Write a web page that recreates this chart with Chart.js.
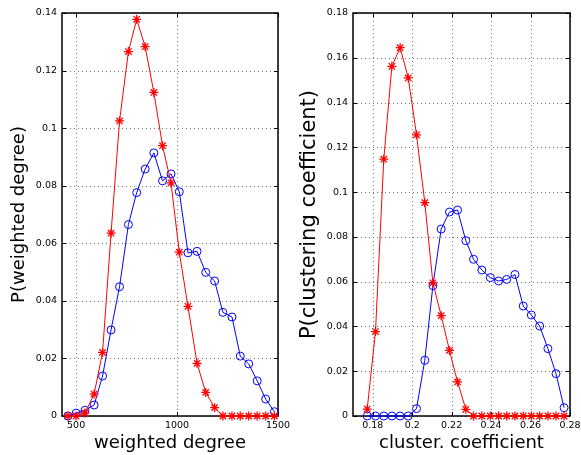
<!DOCTYPE html>
<html><head><meta charset="utf-8">
<script src="https://cdn.jsdelivr.net/npm/chart.js@4.4.1/dist/chart.umd.min.js"></script>
<style>
html,body{margin:0;padding:0;background:#fff;}
#wrap{position:relative;width:581px;height:455px;overflow:hidden;background:#fff;}
canvas{position:absolute;top:0;}
</style></head><body>
<div id="wrap">
<canvas id="c1" width="300" height="455" style="left:0;width:300px;height:455px"></canvas>
<canvas id="c2" width="291" height="455" style="left:290px;width:291px;height:455px"></canvas>
</div>
<script>
// ---- data: weighted degree panel ----
const degX = [459, 500, 544, 589, 631, 673, 715, 759, 800, 842, 885, 928, 970, 1011, 1054, 1099, 1142, 1186, 1227, 1272, 1313, 1355, 1397, 1439, 1482];
const degRed = [0, 0, 0.001, 0.0076, 0.0221, 0.0635, 0.1025, 0.1266, 0.1378, 0.1283, 0.1124, 0.0939, 0.0810, 0.0569, 0.0381, 0.0183, 0.0082, 0.0029, 0, 0, 0, 0, 0, 0, 0];
const degBlue = [0, 0.001, 0.002, 0.0038, 0.0139, 0.0299, 0.0449, 0.0665, 0.0776, 0.0858, 0.0914, 0.0817, 0.0841, 0.0779, 0.0567, 0.0572, 0.0499, 0.0469, 0.0360, 0.0344, 0.0208, 0.0181, 0.0122, 0.0059, 0.0015];
const degXTicks = [500, 1000, 1500];
const degYTicks = [0, 0.02, 0.04, 0.06, 0.08, 0.1, 0.12, 0.14];

// ---- data: clustering coefficient panel ----
const ccX = [0.1772, 0.1814, 0.1856, 0.1897, 0.1939, 0.1980, 0.2022, 0.2064, 0.2105, 0.2147, 0.2189, 0.2230, 0.2272, 0.2311, 0.2353, 0.2396, 0.2438, 0.2479, 0.2521, 0.2563, 0.2604, 0.2646, 0.2688, 0.2729, 0.2770];
const ccRed = [0.0031, 0.0377, 0.1147, 0.1562, 0.1645, 0.151, 0.1256, 0.0953, 0.0595, 0.0448, 0.0293, 0.0152, 0.003, 0, 0, 0, 0, 0, 0, 0, 0, 0, 0, 0, 0];
const ccBlue = [0, 0, 0, 0, 0, 0, 0.0033, 0.0249, 0.0582, 0.0835, 0.0911, 0.092, 0.0783, 0.070, 0.0652, 0.0618, 0.0603, 0.061, 0.0632, 0.0491, 0.0451, 0.0402, 0.0301, 0.0189, 0.0037];
const ccXTicks = [0.18, 0.2, 0.22, 0.24, 0.26, 0.28];
const ccYTicks = [0, 0.02, 0.04, 0.06, 0.08, 0.1, 0.12, 0.14, 0.16, 0.18];

Chart.defaults.font.family = "'DejaVu Sans', sans-serif";
Chart.defaults.color = '#000';

const matlabAxes = {
  id: 'matlabAxes',
  beforeDatasetsDraw(chart) {
    const {ctx, chartArea: a, scales: {x, y}} = chart;
    ctx.save();
    // dotted grid
    ctx.strokeStyle = '#777';
    ctx.lineWidth = 1;
    ctx.setLineDash([1, 3]);
    x.ticks.forEach(t => {
      const px = Math.round(x.getPixelForValue(t.value)) + 0.5;
      ctx.beginPath(); ctx.moveTo(px, a.top); ctx.lineTo(px, a.bottom); ctx.stroke();
    });
    y.ticks.forEach(t => {
      const py = Math.round(y.getPixelForValue(t.value)) + 0.5;
      ctx.beginPath(); ctx.moveTo(a.left, py); ctx.lineTo(a.right, py); ctx.stroke();
    });
    ctx.setLineDash([]);
    // frame
    ctx.strokeStyle = '#000';
    ctx.lineWidth = 1.5;
    ctx.strokeRect(a.left, a.top, a.right - a.left, a.bottom - a.top);
    // inward ticks
    ctx.lineWidth = 1;
    const tl = 4;
    x.ticks.forEach(t => {
      const px = Math.round(x.getPixelForValue(t.value)) + 0.5;
      ctx.beginPath();
      ctx.moveTo(px, a.bottom); ctx.lineTo(px, a.bottom - tl);
      ctx.moveTo(px, a.top); ctx.lineTo(px, a.top + tl);
      ctx.stroke();
    });
    y.ticks.forEach(t => {
      const py = Math.round(y.getPixelForValue(t.value)) + 0.5;
      ctx.beginPath();
      ctx.moveTo(a.left, py); ctx.lineTo(a.left + tl, py);
      ctx.moveTo(a.right, py); ctx.lineTo(a.right - tl, py);
      ctx.stroke();
    });
    ctx.restore();
  }
};

function makeChart(id, xs, red, blue, xMin, xMax, xTicks, yMax, yTicks, xTitle, yTitle, yTitleSize, yTitlePad, pad, yWidth, xFmt) {
  const toPts = arr => arr.map((v, i) => ({x: xs[i], y: v}));
  return new Chart(document.getElementById(id), {
    type: 'line',
    data: {
      datasets: [
        {data: toPts(red), borderColor: '#ff0000', borderWidth: 1, pointStyle: 'star', pointRadius: 4.5,
         pointBorderColor: '#ff0000', pointBorderWidth: 1.3, pointBackgroundColor: 'rgba(0,0,0,0)', tension: 0, clip: false, order: 0},
        {data: toPts(blue), borderColor: '#0000ff', borderWidth: 1, pointStyle: 'circle', pointRadius: 4,
         pointBorderColor: '#0000ff', pointBorderWidth: 1, pointBackgroundColor: 'rgba(0,0,0,0)', tension: 0, clip: false, order: 1}
      ]
    },
    options: {
      responsive: false, animation: false, devicePixelRatio: 1,
      layout: {padding: pad},
      plugins: {legend: {display: false}, tooltip: {enabled: false}},
      scales: {
        x: {
          type: 'linear', min: xMin, max: xMax,
          grid: {display: false, drawTicks: false}, border: {display: false},
          afterBuildTicks: s => { s.ticks = xTicks.map(v => ({value: v})); },
          afterFit: s => { s.height = 39; s.paddingLeft = 0; s.paddingRight = 0; s.paddingTop = 0; s.paddingBottom = 0; },
          ticks: {autoSkip: false, maxRotation: 0, padding: 4, font: {size: 9.5}, color: '#000', callback: v => xFmt(v)},
          title: {display: true, text: xTitle, font: {size: 18}, color: '#000', padding: {top: 0, bottom: 1}}
        },
        y: {
          type: 'linear', min: 0, max: yMax,
          grid: {display: false, drawTicks: false}, border: {display: false},
          afterBuildTicks: s => { s.ticks = yTicks.map(v => ({value: v})); },
          afterFit: s => { s.width = yWidth; s.paddingLeft = 0; s.paddingRight = 0; s.paddingTop = 0; s.paddingBottom = 0; },
          ticks: {autoSkip: false, padding: 5, font: {size: 9.5}, color: '#000', callback: v => String(+v.toFixed(4))},
          title: {display: true, text: yTitle, font: {size: yTitleSize}, color: '#000', padding: {top: yTitlePad, bottom: 0}}
        }
      }
    },
    plugins: [matlabAxes]
  });
}

makeChart('c1', degX, degRed, degBlue, 430, 1500, degXTicks, 0.14, degYTicks,
  'weighted degree', 'P(weighted degree)', 18, 8.5, {left: 0, top: 13, right: 22, bottom: 0}, 62, v => String(v));
makeChart('c2', ccX, ccRed, ccBlue, 0.17, 0.28, ccXTicks, 0.18, ccYTicks,
  'cluster. coefficient', 'P(clustering coefficient)', 21, 7, {left: 0, top: 13, right: 11, bottom: 0}, 63, v => String(+v.toFixed(3)));
</script>
</body></html>
